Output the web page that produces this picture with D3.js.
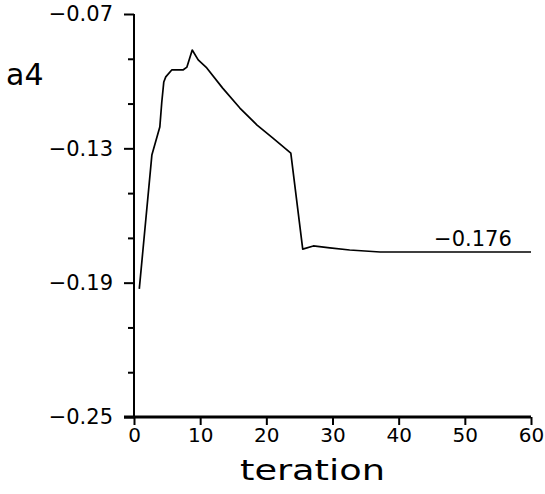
<!DOCTYPE html>
<html>
<head>
<meta charset="utf-8">
<style>
  body { margin: 0; background: #fff; }
  text { font-family: "DejaVu Sans", sans-serif; fill: #000; }
</style>
</head>
<body>
<div id="chart"></div>
<script src="https://d3js.org/d3.v7.min.js"></script>
<script>

// data
var iteration = [0.8, 2.7, 3.9, 4.2, 4.5, 4.8, 5.7, 7.4, 8.0, 8.8, 9.7, 11.0, 13.4, 16.0, 18.6, 21.0, 23.7, 25.5, 27.1, 29.6, 32.6, 37.2, 43.2, 60];
var a4 = [-0.1928, -0.1330, -0.1205, -0.1093, -0.1004, -0.0981, -0.0950, -0.0950, -0.0937, -0.0861, -0.0905, -0.0941, -0.1031, -0.1120, -0.1196, -0.1254, -0.1321, -0.1750, -0.1736, -0.1745, -0.1754, -0.1763, -0.1763, -0.1763];

var yMajor = [-0.07, -0.13, -0.19, -0.25];
var yMinor = [-0.09, -0.11, -0.15, -0.17, -0.21, -0.23];
var xMajor = [0, 10, 20, 30, 40, 50, 60];
var finalValue = -0.176;

var W = 545, H = 494;

var svg = d3.select("#chart").append("svg")
    .attr("width", W)
    .attr("height", H);

svg.append("rect").attr("width", W).attr("height", H).attr("fill", "#fff");

var x = d3.scaleLinear().domain([0, 60]).range([134, 531]);
var y = d3.scaleLinear().domain([-0.25, -0.07]).range([417, 14]);

var fmt2 = d3.format(".2f");

// y axis, major ticks with labels
var gy = svg.append("g").attr("transform", "translate(" + x(0) + ",0)");
gy.call(d3.axisLeft(y).tickValues(yMajor).tickSize(10).tickSizeOuter(0).tickPadding(11).tickFormat(fmt2));
gy.select(".domain").remove();
gy.selectAll("line").attr("stroke", "#000").attr("stroke-width", 2);
gy.selectAll("text").style("font-size", "21px").attr("font-family", null);

// y minor ticks
var gym = svg.append("g").attr("transform", "translate(" + x(0) + ",0)");
gym.call(d3.axisLeft(y).tickValues(yMinor).tickSize(6).tickFormat(""));
gym.select(".domain").remove();
gym.selectAll("line").attr("stroke", "#000").attr("stroke-width", 2);

svg.append("line")
    .attr("x1", x(0)).attr("x2", x(0))
    .attr("y1", y(-0.07)).attr("y2", y(-0.25))
    .attr("stroke", "#000").attr("stroke-width", 2);

// x axis
var gx = svg.append("g").attr("transform", "translate(0," + y(-0.25) + ")");
gx.call(d3.axisBottom(x).tickValues(xMajor).tickSize(8).tickSizeOuter(0).tickPadding(3).tickFormat(d3.format("d")));
gx.select(".domain").remove();
gx.selectAll("line").attr("stroke", "#000").attr("stroke-width", 2);
gx.selectAll("text").style("font-size", "20px").attr("font-family", null);

svg.append("line")
    .attr("x1", x(0) - 10).attr("x2", x(60))
    .attr("y1", y(-0.25)).attr("y2", y(-0.25))
    .attr("stroke", "#000").attr("stroke-width", 3);

// axis titles
svg.append("text")
    .attr("x", 6).attr("y", 85)
    .style("font-size", "30px")
    .text("a4");

svg.append("text")
    .attr("x", 240).attr("y", 480)
    .attr("textLength", 145)
    .attr("lengthAdjust", "spacingAndGlyphs")
    .style("font-size", "28px")
    .text("teration");

// data line
var pts = iteration.map(function (d, i) { return [d, a4[i]]; });
var line = d3.line()
    .x(function (d) { return x(d[0]); })
    .y(function (d) { return y(d[1]); });

svg.append("path")
    .datum(pts)
    .attr("d", line)
    .attr("fill", "none")
    .attr("stroke", "#000")
    .attr("stroke-width", 1.7)
    .attr("stroke-linejoin", "round");

// final value label
svg.append("text")
    .attr("x", x(57.1))
    .attr("y", y(finalValue) - 5)
    .attr("text-anchor", "end")
    .style("font-size", "21px")
    .text(d3.format(".3f")(finalValue));

</script>
</body>
</html>
